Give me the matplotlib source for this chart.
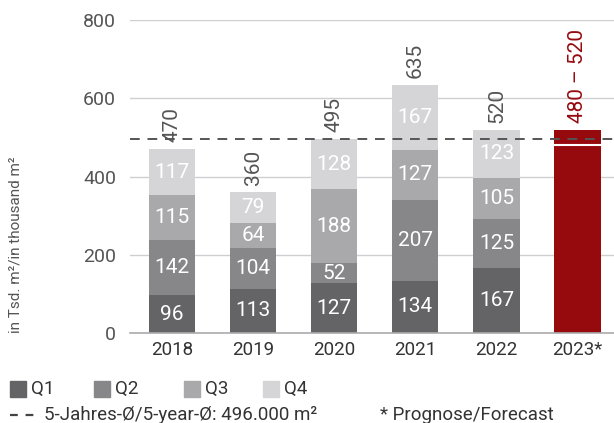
import matplotlib
matplotlib.use("Agg")
import matplotlib.pyplot as plt
from matplotlib.patches import Rectangle
import numpy as np

years = ["2018", "2019", "2020", "2021", "2022", "2023*"]
quarters = ["Q1", "Q2", "Q3", "Q4"]
q1 = [96, 113, 127, 134, 167]
q2 = [142, 104, 52, 207, 125]
q3 = [115, 64, 188, 127, 105]
q4 = [117, 79, 128, 167, 123]
totals = [470, 360, 495, 635, 520]
forecast_low = 480
forecast_high = 520
avg5 = 496
yticks = [0, 200, 400, 600, 800]

plt.rcParams['font.family'] = ['Roboto', 'DejaVu Sans']
colors = ["#646466", "#87878a", "#a9a9ac", "#d5d5d7"]
red = "#960a0e"
txt = "#555555"
dark = "#333333"

W, H = 614, 423
fig = plt.figure(figsize=(W/100, H/100), dpi=100)
ax = fig.add_axes([130/W, 1-333/H, 484/W, 313/H])

x = np.arange(len(years))
w = 0.57
bottom = np.zeros(5)
for vals, c in zip([q1, q2, q3, q4], colors):
    vals = np.array(vals)
    ax.bar(x[:5], vals, w, bottom=bottom, color=c, zorder=3)
    for xi, b, v in zip(x[:5], bottom, vals):
        ax.text(xi, b + v/2, str(v), ha='center', va='center', color='white',
                fontsize=15, zorder=5)
    bottom += vals

for xi, t in zip(x[:5], totals):
    ax.text(xi, t + 18, str(t), rotation=90, ha='center', va='bottom', color=txt,
            fontsize=15, zorder=5)

ax.bar(x[5], forecast_low, w, color=red, zorder=3)
ax.bar(x[5], forecast_high - forecast_low, w, bottom=forecast_low, color=red, zorder=3)
ax.hlines(forecast_low, x[5] - w/2, x[5] + w/2, color='white', lw=1.5, zorder=4)
ax.text(x[5], forecast_high + 18, f"{forecast_low} – {forecast_high}", rotation=90,
        ha='center', va='bottom', color=red, fontsize=15, zorder=5)

ax.axhline(avg5, color="#555555", lw=1.4, ls=(0, (5, 4)), zorder=6)

ax.set_xlim(-0.52, 5.45)
ax.set_ylim(0, 800)
ax.set_yticks(yticks)
ax.set_yticklabels([str(v) for v in yticks], color=txt, fontsize=14)
ax.set_xticks(x)
ax.set_xticklabels(years, color=dark, fontsize=13.5)
ax.tick_params(axis='x', length=0, pad=6)
ax.tick_params(axis='y', length=0, pad=10)
ax.grid(axis='y', color="#cfcfd2", lw=1, zorder=0)
for s in ['top', 'right', 'left']:
    ax.spines[s].set_visible(False)
ax.spines['bottom'].set_color("#ababab")
ax.spines['bottom'].set_linewidth(1.2)
ax.spines['bottom'].set_zorder(4)

fig.text(16/W, 1-333/H, "in Tsd. m²/in thousand m²", rotation=90, ha='center',
         va='bottom', color=txt, fontsize=11)

# legend row 1
sq_x = [10, 94, 184, 263]
for qx, lab, c in zip(sq_x, quarters, colors):
    fig.add_artist(Rectangle((qx/W, 1-397/H), 16/W, 16/H, color=c,
                             transform=fig.transFigure))
    fig.text((qx + 21)/W, 1-389/H, lab, ha='left', va='center', color=dark, fontsize=13.5)

# legend row 2
fig.add_artist(plt.Line2D([10/W, 34/W], [1-415/H, 1-415/H], color="#444444", lw=1.6,
                          ls=(0, (3.5, 3.5)), transform=fig.transFigure))
fig.text(44/W, 1-415/H, "5-Jahres-Ø/5-year-Ø: 496.000 m²", ha='left', va='center',
         color=dark, fontsize=13.5)
fig.text(380/W, 1-415/H, "* Prognose/Forecast", ha='left', va='center',
         color=dark, fontsize=13.5)

fig.savefig("out.png", dpi=100)
